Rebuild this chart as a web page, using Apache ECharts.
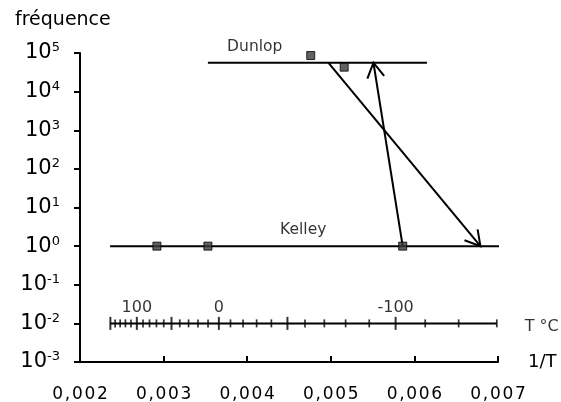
<!DOCTYPE html>
<html><head><meta charset="utf-8">
<script src="https://cdn.jsdelivr.net/npm/echarts@6/dist/echarts.min.js"></script>
<style>html,body{margin:0;padding:0;background:#fff}#c{width:561px;height:402px}</style>
</head><body><div id="c"></div>
<script>
// ---- data ----
const dunlopLine = [[0.00353, 56000], [0.00615, 56000]];
const kelleyLine = [[0.00236, 1], [0.00702, 1]];
const dunlopPoints = [[0.00476, 86000], [0.00516, 43000]];
const kelleyPoints = [[0.00292, 1], [0.00353, 1], [0.00586, 1]];
// arrows: [x from, y from, x to, y to]
const arrows = [[0.00586, 1, 0.00551, 56000], [0.00497, 56000, 0.00679, 1]];
const curveNames = [['Dunlop', 0.00409, 56000], ['Kelley', 0.00467, 1]];
// secondary temperature scale (°C), drawn at y = 1e-2
const tempTicksC = [150, 140, 130, 120, 110, 100, 90, 80, 70, 60, 50, 40, 30, 20, 10, 0,
  -10, -20, -30, -40, -50, -60, -70, -80, -90, -100, -110, -120, -130];
const tempMajorC = [150, 100, 50, 0, -50, -100];
const tempLabelsC = [100, 0, -100];
const tempAxisLevel = 0.01;
const tempUnit = 'T \u00b0C';
const yTitle = 'fr\u00e9quence';
const xTitle = '1/T';

const FONT = 'DejaVu Sans';
const INK = '#000';
const invT = c => 1 / (c + 273.15);
const hair = '\u200a';

const tempTickData = tempTicksC.map((c, i) => {
  const major = tempMajorC.includes(c);
  const d = { value: [invT(c), tempAxisLevel], symbolSize: major ? [2, 13] : [1.7, 8] };
  if (tempLabelsC.includes(c)) {
    d.label = { show: true, position: 'top', distance: 1, formatter: String(c),
      fontFamily: FONT, fontSize: 16, color: INK };
  }
  if (i === tempTicksC.length - 1) {
    d.label = { show: true, position: 'right', distance: 27, offset: [0, 3], formatter: tempUnit,
      fontFamily: FONT, fontSize: 16, color: INK };
  }
  return d;
});

const chart = echarts.init(document.getElementById('c'), null, { renderer: 'canvas' });
chart.setOption({
  animation: false,
  backgroundColor: '#fff',
  title: { text: yTitle, left: 10, top: 6,
    textStyle: { fontFamily: FONT, fontSize: 19, fontWeight: 'normal', color: INK } },
  grid: { left: 80, right: 63, top: 53, bottom: 40, containLabel: false, outerBoundsMode: 'none' },
  xAxis: {
    type: 'value', min: 0.002, max: 0.007, interval: 0.001,
    name: xTitle, nameLocation: 'end', nameGap: 30,
    nameTextStyle: { fontFamily: FONT, fontSize: 18, color: INK, padding: [0, 0, 8, 0] },
    axisLine: { show: true, lineStyle: { color: INK, width: 2 } },
    axisTick: { show: true, inside: true, length: 6, lineStyle: { color: INK, width: 2 } },
    splitLine: { show: false },
    axisLabel: { margin: 24, fontFamily: FONT, fontSize: 17, color: INK,
      formatter: v => v.toFixed(3).replace('.', ',').split('').join(hair) }
  },
  yAxis: {
    type: 'log', logBase: 10, min: 0.001, max: 100000, splitNumber: 8,
    axisLine: { show: true, lineStyle: { color: INK, width: 2 } },
    axisTick: { show: true, inside: false, length: 6, lineStyle: { color: INK, width: 2 } },
    splitLine: { show: false },
    axisLabel: { margin: 20, color: INK,
      formatter: v => '{b|10}{s|' + Math.round(Math.log10(v)) + '}',
      rich: {
        b: { fontFamily: FONT, fontSize: 21, lineHeight: 23, color: INK },
        s: { fontFamily: FONT, fontSize: 13, lineHeight: 13, verticalAlign: 'top', color: INK }
      } }
  },
  series: [
    { type: 'line', data: dunlopLine, symbol: 'none', lineStyle: { color: INK, width: 2 }, z: 2 },
    { type: 'line', data: kelleyLine, symbol: 'none', lineStyle: { color: INK, width: 2 }, z: 2 },
    { type: 'line', data: [[invT(tempTicksC[0]), tempAxisLevel], [invT(tempTicksC[tempTicksC.length - 1]), tempAxisLevel]],
      symbol: 'none', lineStyle: { color: INK, width: 2 }, z: 2 },
    { type: 'scatter', data: tempTickData, symbol: 'rect', itemStyle: { color: INK }, z: 3 },
    { type: 'scatter', data: dunlopPoints.concat(kelleyPoints), symbol: 'rect', symbolSize: 8,
      itemStyle: { color: '#3a3a3a', borderColor: '#000', borderWidth: 1 }, z: 5 },
    { type: 'scatter', data: curveNames.map(n => ({ value: [n[1], n[2]], name: n[0] })),
      symbolSize: 0, z: 6,
      label: { show: true, position: 'top', distance: 8, formatter: p => p.name,
        fontFamily: FONT, fontSize: 15.5, color: INK } },
    { type: 'custom', data: arrows, z: 4,
      renderItem: (params, api) => {
        const p1 = api.coord([api.value(0), api.value(1)]);
        const p2 = api.coord([api.value(2), api.value(3)]);
        const a = Math.atan2(p1[1] - p2[1], p1[0] - p2[0]);
        const L = 17, th = Math.PI / 6;
        const h1 = [p2[0] + L * Math.cos(a + th), p2[1] + L * Math.sin(a + th)];
        const h2 = [p2[0] + L * Math.cos(a - th), p2[1] + L * Math.sin(a - th)];
        const st = { stroke: INK, lineWidth: 2, fill: null, lineJoin: 'miter' };
        return { type: 'group', children: [
          { type: 'line', shape: { x1: p1[0], y1: p1[1], x2: p2[0], y2: p2[1] }, style: st },
          { type: 'polyline', shape: { points: [h1, p2, h2] }, style: st }
        ] };
      } }
  ]
});
</script></body></html>
